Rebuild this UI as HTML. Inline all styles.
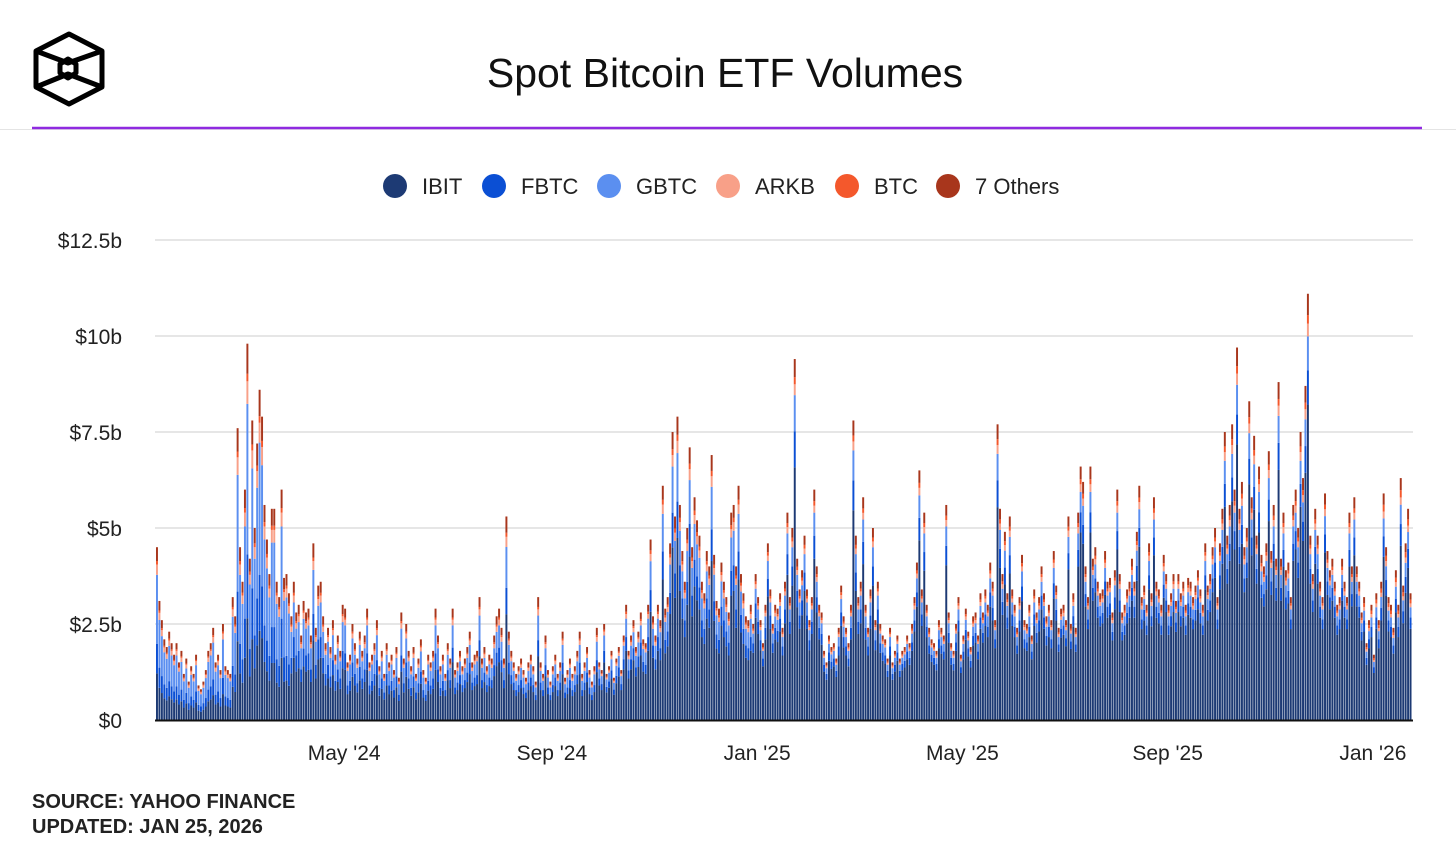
<!DOCTYPE html>
<html><head><meta charset="utf-8"><style>
html,body{margin:0;padding:0;background:#fff;}
body{width:1456px;height:849px;overflow:hidden;position:relative;font-family:"Liberation Sans",Arial,sans-serif;}
</style></head><body>
<svg width="1456" height="849" xmlns="http://www.w3.org/2000/svg">
<g fill="none" stroke="#000" stroke-width="5" stroke-linejoin="round">
<polygon points="69,34 102,51 102,87 69,104 36,87 36,51"/>
<polygon points="68,59 76,64 76,73 68,78 60,73 60,64"/>
<polyline points="36,51 68,63 102,51"/>
<polyline points="36,87 68,74 102,87"/>
</g>
<text x="725" y="87" text-anchor="middle" font-size="41" fill="#111">Spot Bitcoin ETF Volumes</text>
<line x1="0" y1="129.5" x2="1456" y2="129.5" stroke="#e4e4e4" stroke-width="1"/>
<line x1="32" y1="128" x2="1422" y2="128" stroke="#8f2ae0" stroke-width="2.5"/>
<g id="legend"></g>
<g id="grid"></g>
<g id="yaxis"></g>
<g id="bars"></g>
<line x1="155" y1="720.5" x2="1413" y2="720.5" stroke="#111" stroke-width="2"/>
<g id="xaxis"></g>
<text x="32" y="808" font-size="20" font-weight="bold" fill="#222">SOURCE: YAHOO FINANCE</text>
<text x="32" y="833" font-size="20" font-weight="bold" fill="#222">UPDATED: JAN 25, 2026</text>
</svg>
<script>
const seriesNames = ["IBIT","FBTC","GBTC","ARKB","BTC","7 Others"];
const seriesColors = ["#1d3a74","#0b4fd4","#5b8ff0","#f8a088","#f4582c","#a8361c"];
const yTicks = [0,2.5,5,7.5,10,12.5];
const yTickLabels = ["$0","$2.5b","$5b","$7.5b","$10b","$12.5b"];
const xTickLabels = ["May '24","Sep '24","Jan '25","May '25","Sep '25","Jan '26"];
const xTickIndex = [77,162,246,330,414,498];
// total daily volume in $b
const totals = [
4.5,3.1,2.6,2.1,1.9,2.3,2.0,1.7,2.0,1.5,1.8,1.2,1.6,1.0,1.4,1.2,1.7,0.9,0.8,1.0,1.3,1.8,2.0,2.4,1.5,1.7,1.3,2.5,1.4,1.3,
1.2,3.2,2.7,7.6,4.5,3.6,6.0,9.8,4.2,7.8,5.0,7.2,8.6,7.9,5.6,4.7,3.8,5.5,5.5,3.6,3.2,6.0,3.7,3.8,3.3,2.7,3.6,2.8,3.0,2.2,
3.1,2.8,2.9,2.2,4.6,2.4,3.5,3.6,2.7,2.0,2.4,1.9,2.6,1.7,2.2,1.8,3.0,2.9,1.5,1.7,2.5,2.0,1.6,2.3,1.8,2.2,2.9,1.5,1.7,2.0,
2.6,1.4,1.8,1.2,2.0,1.5,1.7,1.3,1.9,1.1,2.8,1.6,2.5,1.8,1.4,1.9,1.2,1.6,2.1,1.3,1.1,1.7,1.5,1.8,2.9,2.2,1.4,1.7,1.2,2.0,
1.6,2.9,1.3,1.5,1.8,1.4,1.6,1.9,2.3,1.5,1.7,1.8,3.2,1.6,1.9,1.4,1.7,1.6,2.2,2.7,2.9,2.4,1.6,5.3,2.3,1.8,1.5,1.2,1.4,1.6,
1.3,1.1,1.5,1.7,1.4,1.0,3.2,1.5,1.2,2.2,1.3,1.0,1.4,1.7,1.2,1.5,2.3,1.1,1.3,1.6,1.2,1.4,1.8,2.3,1.2,1.5,1.9,1.3,1.0,1.4,
2.4,1.5,1.3,2.5,1.2,1.4,1.8,1.1,1.6,1.9,1.3,2.2,3.0,1.8,2.2,2.6,1.9,2.3,2.8,2.1,2.0,3.0,4.7,2.7,2.2,3.0,2.6,6.1,2.9,3.2,
4.6,7.5,5.3,7.9,5.6,4.4,3.6,5.0,7.1,4.5,5.8,5.2,4.8,3.6,3.3,4.4,4.0,6.9,4.3,3.1,2.9,4.1,3.6,3.2,2.8,5.4,5.6,4.0,6.1,3.8,3.3,2.7,2.6,3.0,
2.5,3.8,3.2,2.6,2.0,3.0,4.6,3.4,2.5,3.0,2.9,3.3,2.4,3.6,5.4,3.2,5.0,9.4,4.2,3.4,3.9,4.8,3.4,2.6,3.2,6.0,4.0,3.0,2.8,1.8,
1.5,2.2,1.9,2.0,1.6,2.4,3.5,2.7,2.4,2.0,3.0,7.8,4.8,3.2,3.6,5.8,3.0,2.4,3.4,5.0,2.6,3.6,2.5,2.2,2.1,1.6,2.4,1.5,1.8,2.2,
1.6,1.8,1.9,2.2,2.0,2.5,3.2,4.1,6.5,3.4,5.4,3.0,2.4,2.1,2.0,1.8,2.6,2.4,2.2,5.6,2.8,2.0,1.8,2.5,3.2,1.7,2.2,2.9,2.3,1.9,
2.7,2.8,2.2,3.3,2.8,3.4,3.0,4.1,3.6,2.6,7.7,5.5,3.8,4.9,3.3,
5.3,3.4,3.0,2.4,3.2,4.3,2.6,2.5,3.0,2.2,3.4,2.8,3.2,4.0,3.3,2.7,3.0,2.6,4.4,3.5,2.4,2.9,3.0,2.6,5.3,2.5,3.3,2.4,5.4,6.6,
6.2,4.0,3.2,6.6,4.2,4.5,3.6,3.3,3.4,4.4,3.6,3.7,2.8,3.9,6.0,3.8,2.8,3.0,3.4,3.6,4.2,3.6,4.9,6.1,3.2,3.5,3.0,4.6,3.3,5.8,
3.6,3.4,3.0,4.3,3.8,3.0,3.3,3.8,3.1,3.8,3.3,3.6,3.0,3.7,3.6,3.2,3.5,3.9,3.4,3.0,4.6,3.5,
3.8,4.5,5.0,3.2,4.6,5.5,7.5,4.8,5.6,7.7,6.0,9.7,5.5,6.2,4.5,5.0,8.3,5.8,7.4,4.8,6.6,4.3,4.0,4.6,7.0,4.4,5.6,4.2,8.8,4.2,
5.4,3.9,4.1,3.2,5.6,6.0,5.0,7.5,6.3,8.7,11.1,4.8,3.8,5.5,4.8,3.6,3.2,5.9,4.4,3.9,4.2,3.6,3.0,3.2,4.2,3.6,3.2,5.4,4.0,5.8,
4.0,3.6,2.8,3.2,2.0,2.6,3.0,1.7,3.3,2.6,3.6,5.9,4.5,3.2,3.0,2.4,3.9,3.0,6.3,3.5,4.6,5.5,3.3
];
// share of each fund per period (period starts at trading-day index)
const periodStart = [0,55,118,181,244,305,368,431,494];
const shareIBIT  = [0.27,0.45,0.52,0.60,0.70,0.72,0.74,0.74,0.72];
const shareFBTC  = [0.17,0.15,0.13,0.12,0.10,0.09,0.08,0.08,0.09];
const shareGBTC  = [0.40,0.25,0.20,0.16,0.10,0.09,0.08,0.08,0.08];
const shareARKB  = [0.06,0.05,0.05,0.04,0.03,0.03,0.03,0.03,0.03];
const shareBTC   = [0.02,0.02,0.02,0.02,0.02,0.02,0.02,0.02,0.03];
const shareOther = [0.08,0.08,0.08,0.06,0.05,0.05,0.05,0.05,0.05];

const NS="http://www.w3.org/2000/svg";
const X0=155, X1=1413, Y0=720, YTOP=240, YMAX=12.5;
const n=totals.length;
const step=(X1-X0-2)/n;
const xScale=i=>X0+1+i*step;
const yScale=v=>Y0-(v/YMAX)*(Y0-YTOP);
function mk(tag,attrs,parent){const e=document.createElementNS(NS,tag);for(const k in attrs)e.setAttribute(k,attrs[k]);parent.appendChild(e);return e;}

const grid=document.getElementById('grid'), yaxis=document.getElementById('yaxis');
yTicks.forEach((t,k)=>{
  if(t>0){const l=mk('line',{x1:X0,x2:X1,y1:yScale(t),y2:yScale(t),stroke:'#e6e6e6','stroke-width':2},grid);
  
  }
  const tx=mk('text',{x:122,y:yScale(t)+8,'text-anchor':'end','font-size':21,fill:'#222'},yaxis);
  tx.textContent=yTickLabels[k];
  
  
});
const xaxis=document.getElementById('xaxis');
xTickLabels.forEach((lab,k)=>{
  const tx=mk('text',{x:xScale(xTickIndex[k]),y:760,'text-anchor':'middle','font-size':21,fill:'#222'},xaxis);
  tx.textContent=lab;
  
  
});
const shares=[shareIBIT,shareFBTC,shareGBTC,shareARKB,shareBTC,shareOther];
const barsG=document.getElementById('bars');
const bw=Math.max(1.2,step*0.8);
for(let i=0;i<n;i++){
  let p=0; for(let k=0;k<periodStart.length;k++) if(i>=periodStart[k]) p=k;
  let sum=0; shares.forEach(s=>sum+=s[p]);
  let acc=0;
  const g=mk('g',{},barsG);
  
  
  shares.forEach((s,si)=>{
    const v=totals[i]*s[p]/sum;
    const yTop=yScale(acc+v), yBot=yScale(acc);
    const r=mk('rect',{x:xScale(i),y:yTop,width:bw,height:Math.max(0,yBot-yTop),fill:seriesColors[si]},g);
    
    
    acc+=v;
  });
}
const legend=document.getElementById('legend');
const legX=[395,494,609,728,847,948];
seriesNames.forEach((nm,k)=>{
  const g=mk('g',{},legend);
  
  
  mk('circle',{cx:legX[k],cy:186,r:12,fill:seriesColors[k]},g);
  const t=mk('text',{x:legX[k]+27,y:194,'font-size':22,fill:'#222'},g);
  t.textContent=nm;
});
</script>
</body></html>
